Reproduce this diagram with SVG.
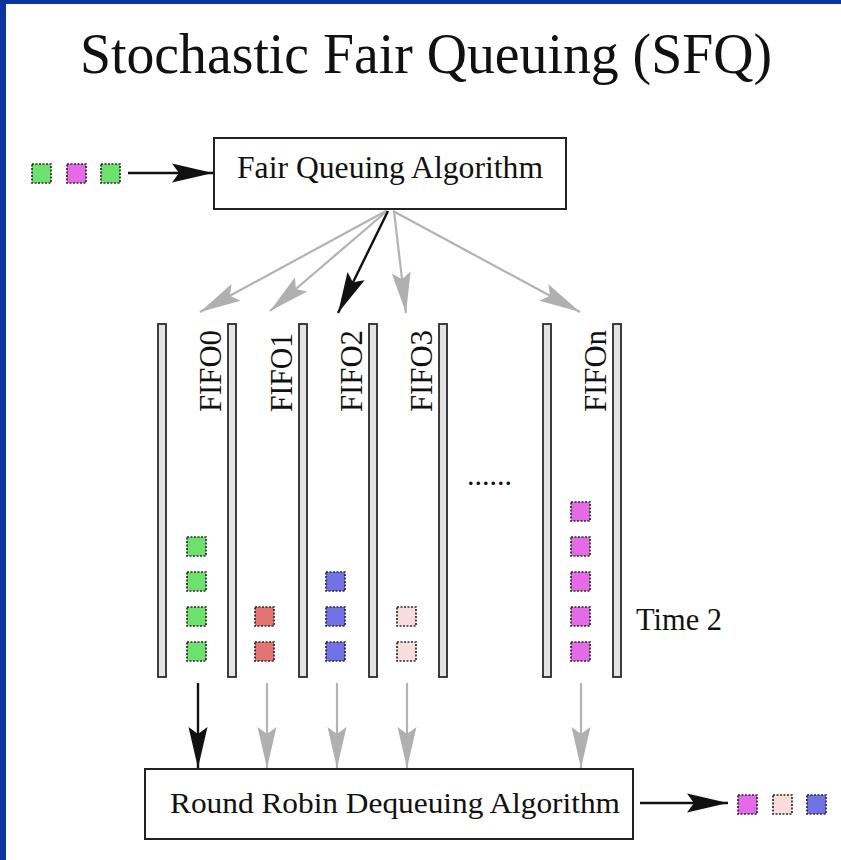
<svg xmlns="http://www.w3.org/2000/svg" width="841" height="860" viewBox="0 0 841 860">
  <style>
    .serif { font-family: "Liberation Serif", "DejaVu Serif", "Times New Roman", serif; fill: #111; }
    .box { fill: #fff; stroke: #222; stroke-width: 2; }
    .rail { fill: #e4e4e4; stroke: #2a2a2a; stroke-width: 1.8; }
    .pkt { stroke: #2a2a2a; stroke-width: 1.7; stroke-dasharray: 2 1.5; }
    .green { fill: #6ee06e; }
    .magenta { fill: #e46ae6; }
    .red { fill: #e27474; }
    .blue { fill: #7272e8; }
    .pink { fill: #f9dcdc; }
    .gray { stroke: #b3b3b3; stroke-width: 2.2; fill: none; marker-end: url(#headGray); }
    .dark { stroke: #111; stroke-width: 2.4; fill: none; marker-end: url(#headDark); }
  </style>
  <defs>
    <marker id="headDark" viewBox="-42 -11 43 22" refX="0" refY="0" markerWidth="43" markerHeight="22" markerUnits="userSpaceOnUse" orient="auto">
      <path d="M0,0 L-41,-9.5 Q-37,-4 -34,0 Q-37,4 -41,9.5 Z" fill="#111"/>
    </marker>
    <marker id="headGray" viewBox="-42 -11 43 22" refX="0" refY="0" markerWidth="43" markerHeight="22" markerUnits="userSpaceOnUse" orient="auto">
      <path d="M0,0 L-41,-9.5 Q-37,-4 -34,0 Q-37,4 -41,9.5 Z" fill="#b0b0b0"/>
    </marker>
  </defs>

  <!-- page frame -->
  <rect x="0" y="0" width="841" height="860" fill="#fff"/>
  <rect x="0" y="0" width="841" height="4" fill="#0a35a0"/>
  <rect x="0" y="0" width="6" height="860" fill="#0a35a0"/>

  <text class="serif" x="80" y="73" font-size="56" textLength="692" lengthAdjust="spacingAndGlyphs">Stochastic Fair Queuing (SFQ)</text>

  <!-- incoming packets -->
  <g id="input-packets">
    <rect class="pkt green" x="32" y="164" width="19" height="19"/>
    <rect class="pkt magenta" x="67" y="164" width="19" height="19"/>
    <rect class="pkt green" x="101" y="164" width="19" height="19"/>
  </g>

  <g id="fair-queuing">
    <rect class="box" x="214" y="138" width="352" height="71"/>
    <text class="serif" x="390" y="178" font-size="32" text-anchor="middle" textLength="306" lengthAdjust="spacingAndGlyphs">Fair Queuing Algorithm</text>
  </g>

  <!-- FIFO channels: rails and labels -->
  <g id="fifo-rails">
    <rect class="rail" x="158" y="324" width="8" height="353"/>
    <rect class="rail" x="228" y="324" width="8" height="353"/>
    <rect class="rail" x="299" y="324" width="8" height="353"/>
    <rect class="rail" x="369" y="324" width="8" height="353"/>
    <rect class="rail" x="439" y="324" width="8" height="353"/>
    <rect class="rail" x="543" y="324" width="8" height="353"/>
    <rect class="rail" x="613" y="324" width="8" height="353"/>
  </g>

  <g id="fifo0">
    <text class="serif" font-size="31" textLength="82" lengthAdjust="spacingAndGlyphs" transform="translate(221,412) rotate(-90)">FIFO0</text>
    <rect class="pkt green" x="187" y="537" width="19" height="19"/>
    <rect class="pkt green" x="187" y="572" width="19" height="19"/>
    <rect class="pkt green" x="187" y="607" width="19" height="19"/>
    <rect class="pkt green" x="187" y="642" width="19" height="19"/>
  </g>
  <g id="fifo1">
    <text class="serif" font-size="31" textLength="79" lengthAdjust="spacingAndGlyphs" transform="translate(292,412) rotate(-90)">FIFO1</text>
    <rect class="pkt red" x="255" y="607" width="19" height="19"/>
    <rect class="pkt red" x="255" y="642" width="19" height="19"/>
  </g>
  <g id="fifo2">
    <text class="serif" font-size="31" textLength="82" lengthAdjust="spacingAndGlyphs" transform="translate(362,412) rotate(-90)">FIFO2</text>
    <rect class="pkt blue" x="326" y="572" width="19" height="19"/>
    <rect class="pkt blue" x="326" y="607" width="19" height="19"/>
    <rect class="pkt blue" x="326" y="642" width="19" height="19"/>
  </g>
  <g id="fifo3">
    <text class="serif" font-size="31" textLength="82" lengthAdjust="spacingAndGlyphs" transform="translate(432,412) rotate(-90)">FIFO3</text>
    <rect class="pkt pink" x="397" y="607" width="19" height="19"/>
    <rect class="pkt pink" x="397" y="642" width="19" height="19"/>
  </g>
  <g id="fifo-n">
    <text class="serif" font-size="31" textLength="82" lengthAdjust="spacingAndGlyphs" transform="translate(606,412) rotate(-90)">FIFOn</text>
    <rect class="pkt magenta" x="571" y="502" width="19" height="19"/>
    <rect class="pkt magenta" x="571" y="537" width="19" height="19"/>
    <rect class="pkt magenta" x="571" y="572" width="19" height="19"/>
    <rect class="pkt magenta" x="571" y="607" width="19" height="19"/>
    <rect class="pkt magenta" x="571" y="642" width="19" height="19"/>
  </g>

  <text class="serif" x="467" y="485" font-size="30">......</text>
  <text class="serif" x="636" y="630" font-size="31" textLength="86" lengthAdjust="spacingAndGlyphs">Time 2</text>

  <g id="round-robin">
    <rect class="box" x="145" y="769" width="488" height="70"/>
    <text class="serif" x="170" y="813" font-size="30" textLength="450" lengthAdjust="spacingAndGlyphs">Round Robin Dequeuing Algorithm</text>
  </g>

  <!-- outgoing packets -->
  <g id="output-packets">
    <rect class="pkt magenta" x="738" y="795" width="19" height="19"/>
    <rect class="pkt pink" x="773" y="795" width="19" height="19"/>
    <rect class="pkt blue" x="807" y="795" width="19" height="19"/>
  </g>

  <g id="connectors">
    <line class="dark" x1="128" y1="173" x2="213" y2="173"/>
    <line class="gray" x1="386" y1="211" x2="200" y2="312"/>
    <line class="gray" x1="387" y1="211" x2="270" y2="311"/>
    <line class="dark" x1="388" y1="211" x2="338" y2="313"/>
    <line class="gray" x1="394" y1="211" x2="406" y2="313"/>
    <line class="gray" x1="393" y1="211" x2="580" y2="312"/>
    <line class="dark" x1="198" y1="683" x2="198" y2="768"/>
    <line class="gray" x1="267" y1="683" x2="267" y2="768"/>
    <line class="gray" x1="337" y1="683" x2="337" y2="768"/>
    <line class="gray" x1="407" y1="683" x2="407" y2="768"/>
    <line class="gray" x1="581" y1="683" x2="581" y2="768"/>
    <line class="dark" x1="640" y1="803" x2="728" y2="803"/>
  </g>
</svg>
